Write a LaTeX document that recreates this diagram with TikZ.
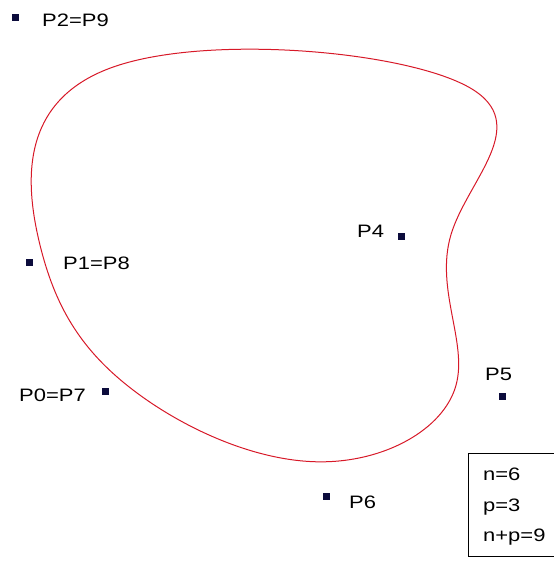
\documentclass[tikz,border=0pt]{standalone}
\usepackage{fontspec}
\setmainfont{Liberation Sans}[FakeStretch=1.22]
\usetikzlibrary{calc}
\definecolor{curvered}{RGB}{215,25,40}
\definecolor{marknavy}{RGB}{12,12,60}
\begin{document}
\begin{tikzpicture}[x=1pt,y=-1pt,
  ctrlpt/.style={rectangle,fill=marknavy,inner sep=0pt,minimum size=7pt},
  lbl/.style={inner sep=0pt,anchor=base west,font=\fontsize{18}{20}\selectfont},
  spline/.style={draw=curvered,line width=1pt,line join=round}]
\useasboundingbox (0,0) rectangle (554,563);
% control points
\node[ctrlpt] (c0) at (105,391) {};
\node[ctrlpt] (c1) at (29,262) {};
\node[ctrlpt] (c2) at (15.5,17) {};
\coordinate (c3) at (600,68);
\node[ctrlpt] (c4) at (401,236) {};
\node[ctrlpt] (c5) at (502,396) {};
\node[ctrlpt] (c6) at (326,496) {};
% labels
\node[lbl] (l2) at (42,26) {P2=P9};
\node[lbl] (l1) at (63,269) {P1=P8};
\node[lbl] (l4) at (357,237) {P4};
\node[lbl] (l5) at (485,380) {P5};
\node[lbl] (l0) at (19,401) {P0=P7};
\node[lbl] (l6) at (349,508) {P6};
% closed uniform cubic B-spline -> Bezier pieces
\foreach \i [evaluate=\i as \m using {int(mod(\i+6,7))},
             evaluate=\i as \n using {int(mod(\i+1,7))}] in {0,...,6} {
  \coordinate (k\i) at (barycentric cs:c\m=1,c\i=4,c\n=1);
  \coordinate (a\i) at (barycentric cs:c\i=2,c\n=1);
  \coordinate (b\i) at (barycentric cs:c\i=1,c\n=2);
}
\path[spline] (k0) .. controls (a0) and (b0) .. (k1)
  .. controls (a1) and (b1) .. (k2)
  .. controls (a2) and (b2) .. (k3)
  .. controls (a3) and (b3) .. (k4)
  .. controls (a4) and (b4) .. (k5)
  .. controls (a5) and (b5) .. (k6)
  .. controls (a6) and (b6) .. (k0) -- cycle;
% info box (its right side lies beyond the picture edge)
\draw[line width=1pt] (580,453) -- (468,453) -- (468,556) -- (580,556);
\node[lbl] (t1) at (483,480) {n=6};
\node[lbl] (t2) at (483,511) {p=3};
\node[lbl] (t3) at (483,541) {n+p=9};
\end{tikzpicture}
\end{document}
